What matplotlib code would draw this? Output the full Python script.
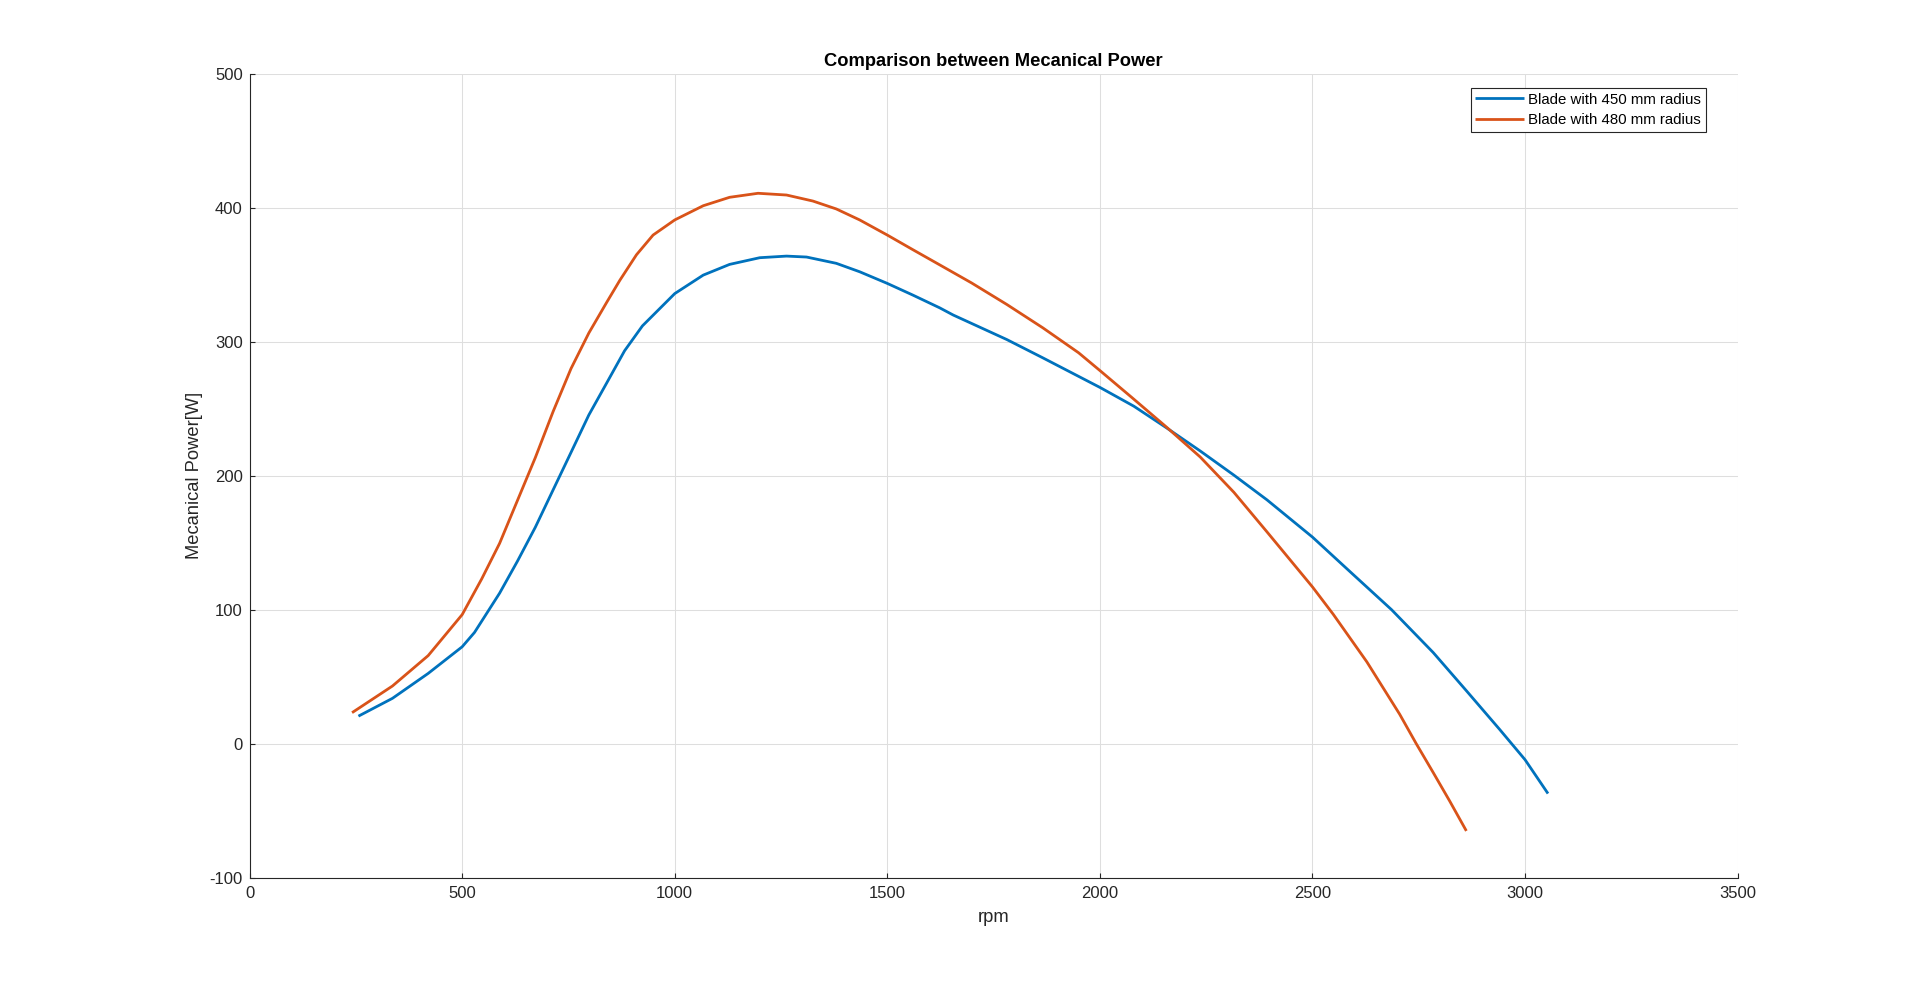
import matplotlib
matplotlib.use("Agg")
import matplotlib.pyplot as plt

plt.rcParams['font.family'] = ['Liberation Sans', 'DejaVu Sans']
plt.rcParams['axes.unicode_minus'] = False

# ---- data ----
rpm_450 = [256, 336, 420, 500, 529, 588, 630, 672, 714, 756, 798, 840, 882, 924,
           1000, 1067, 1129, 1200, 1263, 1310, 1380, 1435, 1500, 1560, 1623, 1655,
           1781, 1866, 2001, 2080, 2158, 2236, 2315, 2393, 2500, 2588, 2686, 2784,
           2862, 2940, 3000, 3054]
pow_450 = [20.5, 33.8, 52.4, 72.3, 83, 112.3, 136.2, 161.5, 189.5, 217.4, 245.4,
           269.3, 293.3, 311.9, 336, 349.8, 357.8, 362.8, 364, 363.3, 358.6, 352.3,
           343.6, 334.9, 325.4, 320, 301.7, 288, 265.8, 251.9, 235.5, 218.5, 200.5,
           182, 154.2, 128.5, 100, 68, 39.5, 10.7, -12, -37.3]

rpm_480 = [241, 336, 420, 500, 546, 588, 630, 672, 714, 756, 798, 840, 871, 910,
           949, 1000, 1067, 1129, 1196, 1263, 1325, 1380, 1435, 1500, 1560, 1623,
           1698, 1781, 1866, 1950, 2001, 2076, 2156, 2236, 2315, 2393, 2500, 2549,
           2628, 2705, 2744, 2784, 2823, 2862]
pow_480 = [23.1, 43, 65.7, 96.3, 123, 149.5, 181.5, 213.5, 248, 280, 306.6, 329.5,
           346, 365, 379.7, 391, 401.6, 407.9, 410.9, 409.6, 405.1, 399.2, 391, 379.7,
           368.8, 357.5, 344, 327.9, 310.4, 291.8, 278.3, 258.2, 236.5, 214, 187.7,
           158.1, 117, 96.5, 61, 22, 0, -21.6, -43, -65.2]

labels = ["Blade with 450 mm radius", "Blade with 480 mm radius"]
title = "Comparison between Mecanical Power"
xlabel = "rpm"
ylabel = "Mecanical Power[W]"
xticks = [0, 500, 1000, 1500, 2000, 2500, 3000, 3500]
yticks = [-100, 0, 100, 200, 300, 400, 500]

# ---- styling ----
c_blue = "#0072BD"
c_orange = "#D95319"
axc = (0.15, 0.15, 0.15)

fig = plt.figure(figsize=(19.2, 9.86), dpi=100)
ax = fig.add_axes([0.13, 0.11, 0.775, 0.815])

ax.plot(rpm_450, pow_450, color=c_blue, lw=2.0, label=labels[0],
        solid_joinstyle='round', solid_capstyle='butt')
ax.plot(rpm_480, pow_480, color=c_orange, lw=2.0, label=labels[1],
        solid_joinstyle='round', solid_capstyle='butt')

ax.set_xlim(0, 3500)
ax.set_ylim(-100, 500)
ax.set_xticks(xticks)
ax.set_yticks(yticks)

ax.grid(True, color=(0.872, 0.872, 0.872), lw=0.75)
ax.set_axisbelow(True)

for s in ['top', 'right']:
    ax.spines[s].set_visible(False)
for s in ['left', 'bottom']:
    ax.spines[s].set_color(axc)
    ax.spines[s].set_linewidth(0.8)

ax.tick_params(direction='in', length=3.5, width=0.8, color=axc,
               labelcolor=axc, labelsize=12, pad=5)
ax.tick_params(axis='x', pad=6)

ax.set_title(title, fontsize=13.2, fontweight='bold', color='black', pad=6)
ax.set_xlabel(xlabel, fontsize=13.2, color=axc)
ax.set_ylabel(ylabel, fontsize=13.2, color=axc)
ax.xaxis.set_label_coords(0.5, -0.039)
ax.yaxis.set_label_coords(-0.0313, 0.5)

leg = ax.legend(loc='upper right', bbox_to_anchor=(1705.7 / 1920, 1 - 88 / 986),
                bbox_transform=fig.transFigure, borderaxespad=0,
                fontsize=10.8, handlelength=3.27, handletextpad=0.27,
                labelspacing=0.45, borderpad=0.3, fancybox=False,
                framealpha=1, edgecolor=axc)
leg.get_frame().set_linewidth(0.8)
for t in leg.get_texts():
    t.set_color('black')

fig.savefig("out.png", dpi=100, facecolor='white')
